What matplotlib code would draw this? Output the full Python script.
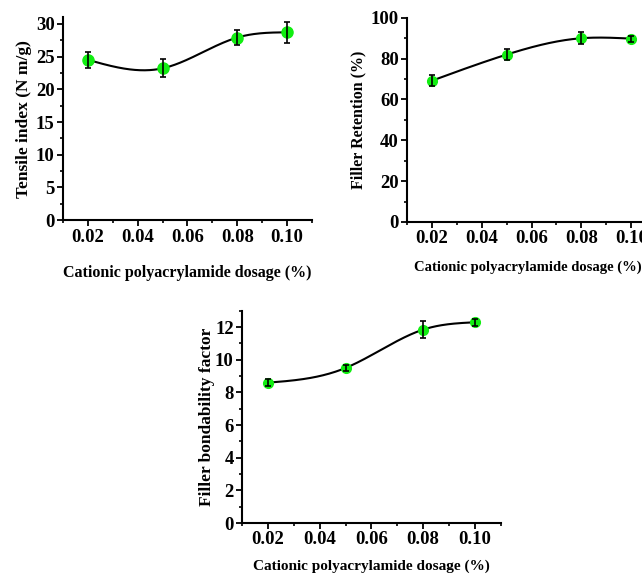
import numpy as np
import matplotlib.pyplot as plt
from matplotlib.ticker import MultipleLocator

plt.rcParams['font.family'] = 'Liberation Serif'
plt.rcParams['font.weight'] = 'bold'

dosage = [0.02, 0.05, 0.08, 0.10]

tensile = [24.5, 23.2, 27.9, 28.7]
tensile_err = [1.2, 1.4, 1.2, 1.6]

retention = [69.2, 82.0, 90.0, 89.8]
retention_err = [2.6, 2.5, 3.0, 1.5]

bondability = [8.6, 9.5, 11.85, 12.3]
bondability_err = [0.2, 0.2, 0.5, 0.2]

xlabel = 'Cationic polyacrylamide dosage (%)'


def natural_spline(x, y, n=200):
    # natural cubic spline through the points
    x = np.asarray(x, float)
    y = np.asarray(y, float)
    k = len(x)
    h = np.diff(x)
    A = np.zeros((k, k))
    b = np.zeros(k)
    A[0, 0] = A[-1, -1] = 1
    for i in range(1, k - 1):
        A[i, i - 1] = h[i - 1]
        A[i, i] = 2 * (h[i - 1] + h[i])
        A[i, i + 1] = h[i]
        b[i] = 6 * ((y[i + 1] - y[i]) / h[i] - (y[i] - y[i - 1]) / h[i - 1])
    M = np.linalg.solve(A, b)
    xs = np.linspace(x[0], x[-1], n)
    ys = np.empty_like(xs)
    for j, t in enumerate(xs):
        i = min(np.searchsorted(x, t, side='right') - 1, k - 2)
        a = x[i + 1] - t
        c = t - x[i]
        ys[j] = (M[i] * a**3 + M[i + 1] * c**3) / (6 * h[i]) \
            + (y[i] / h[i] - M[i] * h[i] / 6) * a \
            + (y[i + 1] / h[i] - M[i + 1] * h[i] / 6) * c
    return xs, ys


def panel(ax, y, err, ylabel, ymax, major, minor, ms,
          xl_size=11.5, yl_size=12.5, xpad=15, ypad=4):
    xs, ys = natural_spline(dosage, y)
    ax.plot(xs, ys, color='black', lw=1.5, zorder=2)
    ax.plot(dosage, y, 'o', color='#11ee11', ms=ms, zorder=3)
    ax.errorbar(dosage, y, yerr=err, fmt='none', ecolor='black',
                elinewidth=1.2, capsize=2.5, capthick=1.2, zorder=4)
    ax.set_xlim(0.01, 0.11)
    ax.set_ylim(0, ymax)
    ax.set_xticks([0.02, 0.04, 0.06, 0.08, 0.10])
    ax.set_xticklabels(['0.02', '0.04', '0.06', '0.08', '0.10'])
    ax.xaxis.set_minor_locator(MultipleLocator(0.01))
    ax.yaxis.set_major_locator(MultipleLocator(major))
    ax.yaxis.set_minor_locator(MultipleLocator(minor))
    for s in ['top', 'right']:
        ax.spines[s].set_visible(False)
    for s in ['left', 'bottom']:
        ax.spines[s].set_linewidth(1.5)
    ax.tick_params(which='major', direction='out', length=4, width=1.3,
                   labelsize=13.5, pad=2)
    ax.tick_params(which='minor', direction='out', length=2.5, width=1.2)
    ax.set_xlabel(xlabel, fontsize=xl_size, fontweight='bold', labelpad=xpad)
    ax.set_ylabel(ylabel, fontsize=yl_size, fontweight='bold', labelpad=ypad)


fig = plt.figure(figsize=(6.42, 5.75), dpi=100)

ax1 = fig.add_axes([0.098, 0.617, 0.388, 0.353])
panel(ax1, tensile, tensile_err, 'Tensile index (N m/g)', 31, 5, 2.5, 8,
      xpad=14, ypad=3)

ax2 = fig.add_axes([0.634, 0.614, 0.388, 0.355])
panel(ax2, retention, retention_err, 'Filler Retention (%)', 100, 20, 10, 7,
      xl_size=10.5, yl_size=11.5, ypad=3)
ax2.xaxis.set_label_coords((528 - 407) / 249.0, -0.19)

ax3 = fig.add_axes([0.377, 0.0904, 0.403, 0.369])
panel(ax3, bondability, bondability_err, 'Filler bondability factor', 13, 2, 1, 7,
      xl_size=11, xpad=8, ypad=0)

fig.savefig('out.png', dpi=100)
